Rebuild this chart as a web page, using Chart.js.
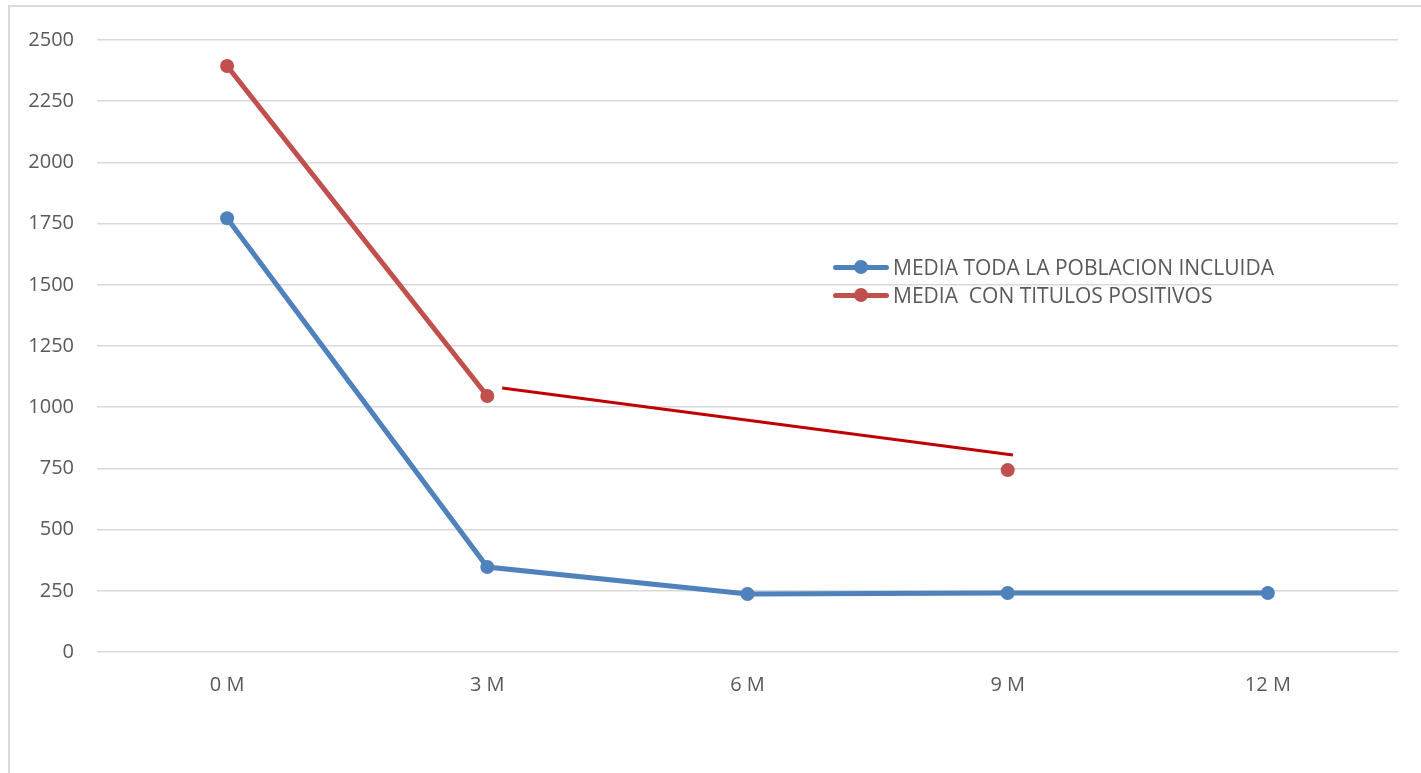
<!DOCTYPE html>
<html>
<head>
<meta charset="utf-8">
<script src="https://cdn.jsdelivr.net/npm/chart.js@4/dist/chart.umd.min.js"></script>
<style>
  html, body { margin: 0; padding: 0; background: #fff; overflow: hidden; }
  #marco { position: absolute; left: 8px; top: 5px; width: 1430px; height: 800px; border: 2px solid #d9d9d9; box-sizing: border-box; }
  #grafico { position: absolute; left: 0; top: 0; width: 1421px; height: 773px; }
  #leyenda { position: absolute; left: 833px; top: 253px; font-family: "Open Sans", sans-serif; font-size: 21px; color: #595959; line-height: 28px; }
  .fila { display: flex; align-items: center; white-space: pre; }
  .muestra { position: relative; width: 56px; height: 28px; margin-right: 4px; }
  .muestra .linea { position: absolute; left: 0; right: 0; top: 12px; height: 5px; border-radius: 3px; }
  .muestra .punto { position: absolute; left: 21px; top: 7px; width: 14px; height: 14px; border-radius: 50%; }
</style>
</head>
<body>
<div id="marco"></div>
<canvas id="grafico" width="1421" height="773"></canvas>
<div id="leyenda"></div>
<script>
const meses = ['0 M', '3 M', '6 M', '9 M', '12 M'];
const mediaTotal = [1772, 347, 237, 241, 241];
const mediaPositivos = [2394, 1046, null, 743, null];
// tramo de tendencia entre 3 M y 9 M (posición en índice de mes)
const tendenciaX = [1.057, 3.02];
const tendenciaY = [1078, 805];

const nombres = ['MEDIA TODA LA POBLACION INCLUIDA', 'MEDIA  CON TITULOS POSITIVOS'];
const colores = ['#4f81bd', '#c0504d'];

const fuente = { family: 'Open Sans', size: 20 };

const ctx = document.getElementById('grafico').getContext('2d');
new Chart(ctx, {
    type: 'line',
    data: {
        labels: meses,
        datasets: [
            {
                label: nombres[0],
                data: mediaTotal,
                borderColor: colores[0],
                backgroundColor: colores[0],
                borderWidth: 5,
                pointRadius: 7,
                pointBorderWidth: 0,
                tension: 0
            },
            {
                label: nombres[1],
                data: mediaPositivos,
                borderColor: colores[1],
                backgroundColor: colores[1],
                borderWidth: 5,
                pointRadius: 7,
                pointBorderWidth: 0,
                spanGaps: false,
                tension: 0
            },
            {
                label: 'tendencia',
                data: tendenciaX.map((x, i) => ({ x: x, y: tendenciaY[i] })),
                xAxisID: 'xl',
                borderColor: '#c00000',
                borderWidth: 3,
                pointRadius: 0,
                borderCapStyle: 'butt',
                tension: 0
            }
        ]
    },
    options: {
        responsive: false,
        animation: false,
        layout: { padding: { top: 40, right: 23, bottom: 0, left: 0 } },
        plugins: { legend: { display: false }, tooltip: { enabled: false } },
        scales: {
            x: {
                offset: true,
                grid: { display: false },
                border: { display: false },
                ticks: { color: '#595959', font: fuente, padding: 13 },
                afterFit: s => { s.height = 121; }
            },
            xl: {
                type: 'linear',
                display: false,
                offset: false,
                min: -0.5,
                max: 4.5
            },
            y: {
                min: 0,
                max: 2500,
                ticks: { stepSize: 250, color: '#595959', font: fuente, padding: 23, callback: v => String(v) },
                grid: { color: '#d9d9d9', lineWidth: 1.5, drawTicks: false },
                border: { display: false },
                afterFit: s => { s.width = 97; }
            }
        }
    }
});

// leyenda dentro del área del gráfico
const leyenda = document.getElementById('leyenda');
nombres.forEach((n, i) => {
    const fila = document.createElement('div');
    fila.className = 'fila';
    fila.innerHTML = '<span class="muestra"><span class="linea" style="background:' + colores[i] +
        '"></span><span class="punto" style="background:' + colores[i] + '"></span></span><span></span>';
    fila.lastChild.textContent = n;
    leyenda.appendChild(fila);
});
</script>
</body>
</html>
